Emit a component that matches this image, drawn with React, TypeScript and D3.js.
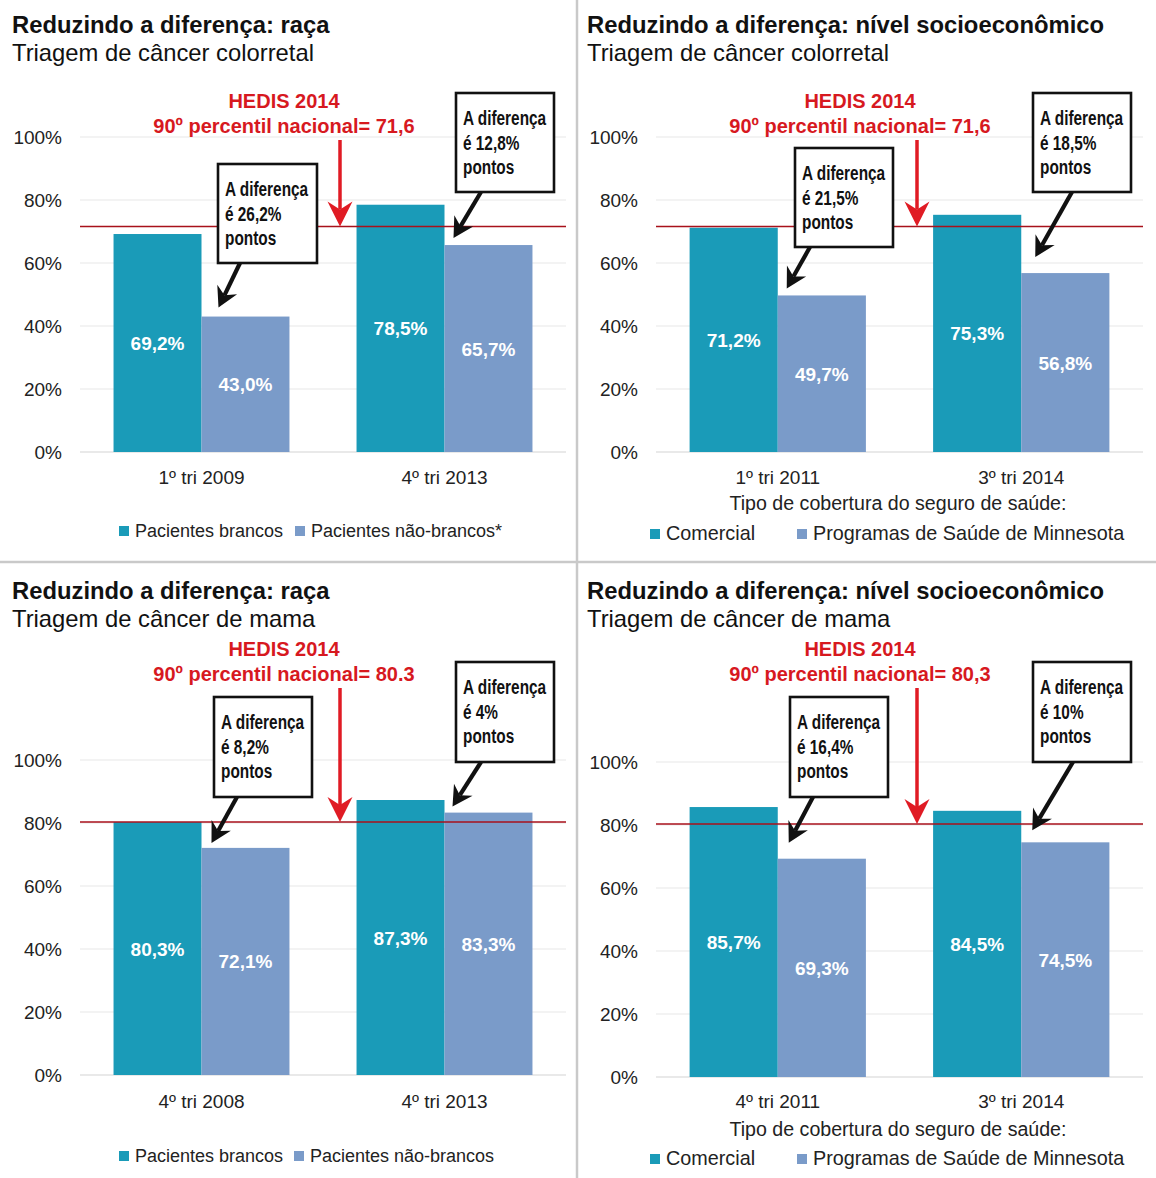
import React from "react";
import * as d3 from "d3";

// ---- data ----
const raceSeries = ["Pacientes brancos", "Pacientes não-brancos"];
const raceSeriesStar = ["Pacientes brancos", "Pacientes não-brancos*"];
const coverageSeries = ["Comercial", "Programas de Saúde de Minnesota"];

const colorectalRaceQuarters = ["1º tri 2009", "4º tri 2013"];
const colorectalRaceWhite = [69.2, 78.5];
const colorectalRaceNonWhite = [43.0, 65.7];
const colorectalRaceGaps = ["26,2%", "12,8%"];

const colorectalSesQuarters = ["1º tri 2011", "3º tri 2014"];
const colorectalSesCommercial = [71.2, 75.3];
const colorectalSesPublic = [49.7, 56.8];
const colorectalSesGaps = ["21,5%", "18,5%"];

const breastRaceQuarters = ["4º tri 2008", "4º tri 2013"];
const breastRaceWhite = [80.3, 87.3];
const breastRaceNonWhite = [72.1, 83.3];
const breastRaceGaps = ["8,2%", "4%"];

const breastSesQuarters = ["4º tri 2011", "3º tri 2014"];
const breastSesCommercial = [85.7, 84.5];
const breastSesPublic = [69.3, 74.5];
const breastSesGaps = ["16,4%", "10%"];

const hedisColorectal = 71.6;
const hedisBreast = 80.3;

const yTicks = [0, 20, 40, 60, 80, 100];

// ---- styling ----
const TEAL = "#1a9bb8";
const BLUE = "#7a9bc9";
const RED_TEXT = "#d7191f";
const RED_LINE = "#a8111b";
const RED_ARROW = "#e01b24";
const FONT = "'Liberation Sans', Arial, Helvetica, sans-serif";

type Box = { x: number; y: number; w: number; h: number; sx: number; tip: [number, number] };

type Panel = {
  title: string;
  subtitle: string;
  quarters: string[];
  a: number[];
  b: number[];
  gaps: string[];
  series: string[];
  hedis: number;
  hedisLabel: string;
  x0: number;
  x1: number;
  yBase: number;
  yTop: number;
  titleY: number;
  hedisY: number;
  redX: number;
  redTop: number;
  catY: number;
  coverageY: number | null;
  legendY: number;
  legendX: [number, number];
  legendSize: number;
  boxes: Box[];
};

const panels: Panel[] = [
  {
    title: "Reduzindo a diferença: raça",
    subtitle: "Triagem de câncer colorretal",
    quarters: colorectalRaceQuarters,
    a: colorectalRaceWhite,
    b: colorectalRaceNonWhite,
    gaps: colorectalRaceGaps,
    series: raceSeriesStar,
    hedis: hedisColorectal,
    hedisLabel: "71,6",
    x0: 80,
    x1: 566,
    yBase: 452,
    yTop: 137,
    titleY: 33,
    hedisY: 108,
    redX: 340,
    redTop: 140,
    catY: 484,
    coverageY: null,
    legendY: 537,
    legendX: [119, 295],
    legendSize: 18,
    boxes: [
      { x: 218, y: 164, w: 99, h: 99, sx: 22, tip: [17, -9] },
      { x: 456, y: 93, w: 98, h: 99, sx: 25, tip: [9, -7] },
    ],
  },
  {
    title: "Reduzindo a diferença: nível socioeconômico",
    subtitle: "Triagem de câncer colorretal",
    quarters: colorectalSesQuarters,
    a: colorectalSesCommercial,
    b: colorectalSesPublic,
    gaps: colorectalSesGaps,
    series: coverageSeries,
    hedis: hedisColorectal,
    hedisLabel: "71,6",
    x0: 656,
    x1: 1143,
    yBase: 452,
    yTop: 137,
    titleY: 33,
    hedisY: 108,
    redX: 917,
    redTop: 140,
    catY: 484,
    coverageY: 510,
    legendY: 540,
    legendX: [650, 797],
    legendSize: 19.8,
    boxes: [
      { x: 795, y: 148, w: 98, h: 99, sx: 15, tip: [9, -7] },
      { x: 1033, y: 93, w: 98, h: 99, sx: 39, tip: [14, -16] },
    ],
  },
  {
    title: "Reduzindo a diferença: raça",
    subtitle: "Triagem de câncer de mama",
    quarters: breastRaceQuarters,
    a: breastRaceWhite,
    b: breastRaceNonWhite,
    gaps: breastRaceGaps,
    series: raceSeries,
    hedis: hedisBreast,
    hedisLabel: "80.3",
    x0: 80,
    x1: 566,
    yBase: 1075,
    yTop: 760,
    titleY: 599,
    hedisY: 656,
    redX: 340,
    redTop: 688,
    catY: 1108,
    coverageY: null,
    legendY: 1162,
    legendX: [119, 294],
    legendSize: 18,
    boxes: [
      { x: 214, y: 697, w: 98, h: 100, sx: 23, tip: [10, -5] },
      { x: 456, y: 662, w: 98, h: 100, sx: 25, tip: [8, -6] },
    ],
  },
  {
    title: "Reduzindo a diferença: nível socioeconômico",
    subtitle: "Triagem de câncer de mama",
    quarters: breastSesQuarters,
    a: breastSesCommercial,
    b: breastSesPublic,
    gaps: breastSesGaps,
    series: coverageSeries,
    hedis: hedisBreast,
    hedisLabel: "80,3",
    x0: 656,
    x1: 1143,
    yBase: 1077,
    yTop: 762,
    titleY: 599,
    hedisY: 656,
    redX: 917,
    redTop: 688,
    catY: 1108,
    coverageY: 1136,
    legendY: 1165,
    legendX: [650, 797],
    legendSize: 19.8,
    boxes: [
      { x: 790, y: 697, w: 98, h: 100, sx: 23, tip: [11, -16] },
      { x: 1033, y: 662, w: 98, h: 100, sx: 40, tip: [11, -12] },
    ],
  },
];

const fmtPct = (v: number) => d3.format(".1f")(v).replace(".", ",") + "%";

// arrow made of a thick shaft plus a notched head
function arrow(sx: number, sy: number, tx: number, ty: number, headLen: number, halfW: number) {
  const dx = tx - sx;
  const dy = ty - sy;
  const len = Math.hypot(dx, dy);
  const ux = dx / len;
  const uy = dy / len;
  const nx = -uy;
  const ny = ux;
  const bx = tx - ux * headLen;
  const by = ty - uy * headLen;
  const mx = tx - ux * headLen * 0.68;
  const my = ty - uy * headLen * 0.68;
  const p = d3.path();
  p.moveTo(tx, ty);
  p.lineTo(bx + nx * halfW, by + ny * halfW);
  p.lineTo(mx, my);
  p.lineTo(bx - nx * halfW, by - ny * halfW);
  p.closePath();
  return { head: p.toString(), shaft: { x1: sx, y1: sy, x2: mx, y2: my } };
}

function ChartPanel({ p }: { p: Panel }) {
  const x = d3.scaleBand<string>().domain(p.quarters).range([p.x0, p.x1]).paddingInner(0.276).paddingOuter(0.138);
  const xi = d3.scaleBand<string>().domain(["a", "b"]).range([0, x.bandwidth()]).padding(0);
  const y = d3.scaleLinear().domain([0, 100]).range([p.yBase, p.yTop]);
  const isLeft = p.x0 < 300;
  const titleX = isLeft ? 12 : 587;
  const yLabelX = isLeft ? 62 : 638;
  const hedisCx = p.x0 + 204;
  const red = arrow(p.redX, p.redTop, p.redX, y(p.hedis), 25, 12.5);

  const bars = p.quarters.flatMap((q, i) => [
    { q, key: "a", v: p.a[i], color: TEAL },
    { q, key: "b", v: p.b[i], color: BLUE },
  ]);

  return (
    <g>
      <text x={titleX} y={p.titleY} fontFamily={FONT} fontWeight="bold" fontSize={23.8} fill="#111">
        {p.title}
      </text>
      <text x={titleX} y={p.titleY + 28} fontFamily={FONT} fontSize={23.8} fill="#111">
        {p.subtitle}
      </text>

      {/* grid */}
      {yTicks.map((t) => (
        <g key={t}>
          <line x1={p.x0} x2={p.x1} y1={y(t)} y2={y(t)} stroke={t === 0 ? "#e2e2e2" : "#efefef"} strokeWidth={1.5} />
          <text x={yLabelX} y={y(t) + 7} textAnchor="end" fontFamily={FONT} fontSize={19} fill="#222">
            {t}%
          </text>
        </g>
      ))}

      {/* bars */}
      {bars.map((d) => {
        const bx = (x(d.q) as number) + (xi(d.key) as number);
        return (
          <rect key={d.q + d.key} x={bx} y={y(d.v)} width={xi.bandwidth()} height={y(0) - y(d.v)} fill={d.color} />
        );
      })}
      {bars.map((d) => {
        const bx = (x(d.q) as number) + (xi(d.key) as number) + xi.bandwidth() / 2;
        return (
          <text
            key={"l" + d.q + d.key}
            x={bx}
            y={(y(d.v) + y(0)) / 2 + 7}
            textAnchor="middle"
            fontFamily={FONT}
            fontWeight="bold"
            fontSize={19}
            fill="#fff"
          >
            {fmtPct(d.v)}
          </text>
        );
      })}

      {/* HEDIS benchmark */}
      <line x1={p.x0} x2={p.x1} y1={y(p.hedis)} y2={y(p.hedis)} stroke={RED_LINE} strokeWidth={1.6} />
      <text x={hedisCx} y={p.hedisY} textAnchor="middle" fontFamily={FONT} fontWeight="bold" fontSize={20} fill={RED_TEXT}>
        HEDIS 2014
      </text>
      <text x={hedisCx} y={p.hedisY + 25} textAnchor="middle" fontFamily={FONT} fontWeight="bold" fontSize={20} fill={RED_TEXT}>
        {`90º percentil nacional= ${p.hedisLabel}`}
      </text>
      <line {...red.shaft} stroke={RED_ARROW} strokeWidth={3.5} />
      <path d={red.head} fill={RED_ARROW} />

      {/* gap call-outs */}
      {p.boxes.map((b, i) => {
        const q = p.quarters[i];
        const barLeft = (x(q) as number) + (xi("b") as number);
        const tx = barLeft + b.tip[0];
        const ty = y(p.b[i]) + b.tip[1];
        const a = arrow(b.x + b.sx, b.y + b.h, tx, ty, 20, 11);
        const lines = ["A diferença", `é ${p.gaps[i]}`, "pontos"];
        return (
          <g key={"box" + i}>
            <rect x={b.x} y={b.y} width={b.w} height={b.h} fill="#fff" stroke="#111" strokeWidth={2.6} />
            {lines.map((t, k) => (
              <text
                key={k}
                transform={`translate(${b.x + 7},${b.y + 32 + k * 24.5}) scale(0.75,1)`}
                fontFamily={FONT}
                fontWeight="bold"
                fontSize={20.5}
                fill="#111"
              >
                {t}
              </text>
            ))}
            <line {...a.shaft} stroke="#111" strokeWidth={4.2} />
            <path d={a.head} fill="#111" />
          </g>
        );
      })}

      {/* category axis */}
      {p.quarters.map((q) => (
        <text
          key={"c" + q}
          x={(x(q) as number) + x.bandwidth() / 2}
          y={p.catY}
          textAnchor="middle"
          fontFamily={FONT}
          fontSize={19}
          fill="#222"
        >
          {q}
        </text>
      ))}
      {p.coverageY !== null && (
        <text x={p.x0 + 242} y={p.coverageY} textAnchor="middle" fontFamily={FONT} fontSize={19.6} fill="#222">
          Tipo de cobertura do seguro de saúde:
        </text>
      )}

      {/* legend */}
      {p.series.map((s, i) => (
        <g key={"lg" + s}>
          <rect x={p.legendX[i]} y={p.legendY - 11} width={10} height={10} fill={i === 0 ? TEAL : BLUE} />
          <text x={p.legendX[i] + 16} y={p.legendY} fontFamily={FONT} fontSize={p.legendSize} fill="#222">
            {s}
          </text>
        </g>
      ))}
    </g>
  );
}

export default function App() {
  return (
    <svg
      width={1156}
      height={1178}
      style={{ position: "absolute", left: 0, top: 0, background: "#fff" }}
    >
      <rect width={1156} height={1178} fill="#fff" />
      <line x1={577} x2={577} y1={0} y2={1178} stroke="#c9c9c9" strokeWidth={2.5} />
      <line x1={0} x2={1156} y1={562} y2={562} stroke="#c9c9c9" strokeWidth={2.5} />
      {panels.map((p, i) => (
        <ChartPanel key={i} p={p} />
      ))}
    </svg>
  );
}
